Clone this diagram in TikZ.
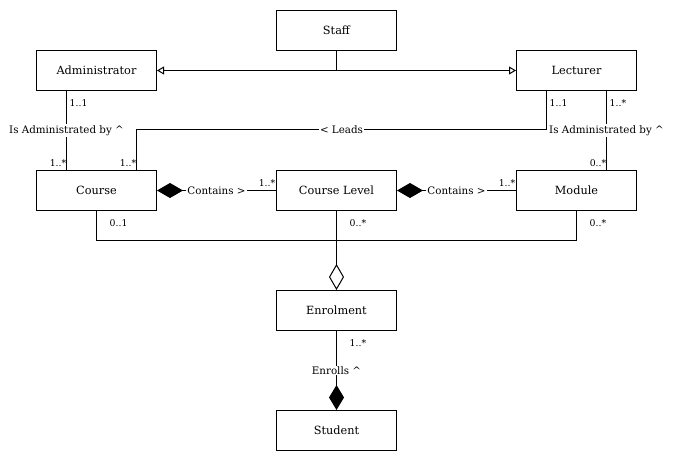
\documentclass[tikz,border=0pt]{standalone}
\usepackage{fontspec}
\setmainfont{DejaVu Serif}
\usetikzlibrary{arrows.meta}
\begin{document}
\begin{tikzpicture}[x=1pt,y=-1pt,
  cls/.style={draw, line width=1pt, minimum width=120pt, minimum height=40pt, inner sep=0pt, font=\fontsize{11.3}{13}\selectfont},
  conn/.style={line width=1pt},
  lbl/.style={fill=white, inner sep=1pt, font=\fontsize{10.3}{12}\selectfont},
  mult/.style={inner sep=0pt, font=\fontsize{9.3}{11}\selectfont},
  gen/.style={-{Triangle[open, length=7pt, width=8pt]}},
  comp/.style={{Diamond[length=26pt, width=15pt]}-},
  agg/.style={-{Diamond[open, length=26pt, width=15pt]}}]
\useasboundingbox[fill=white] (-0.5,-0.5) rectangle (672.5,461.5);
\node[cls] (staff) at (336,30) {Staff};
\node[cls] (admin) at (96,70) {Administrator};
\node[cls] (lect) at (576,70) {Lecturer};
\node[cls] (course) at (96,190) {Course};
\node[cls] (cl) at (336,190) {Course Level};
\node[cls] (module) at (576,190) {Module};
\node[cls] (enrol) at (336,310) {Enrolment};
\node[cls] (student) at (336,430) {Student};
% generalization
\draw[conn,gen] (staff.south) |- (admin.east);
\draw[conn,gen] (staff.south) |- (lect.west);
% administrated (admin-course)
\draw[conn] ([xshift=-30pt]admin.south) -- node[lbl]{Is Administrated by \textasciicircum} ([xshift=-30pt]course.north);
% leads
\draw[conn] ([xshift=-30pt]lect.south) |- node[lbl,pos=0.75]{< Leads} ([xshift=40pt,yshift=40pt]course.north) -- ([xshift=40pt]course.north);
% lecturer-module
\draw[conn] ([xshift=30pt]lect.south) -- node[lbl]{Is Administrated by \textasciicircum} ([xshift=30pt]module.north);
% contains
\draw[conn,comp] (course.east) -- node[lbl]{Contains >} (cl.west);
\draw[conn,comp] (cl.east) -- node[lbl]{Contains >} (module.west);
% enrolment aggregation
\coordinate (j) at (336,240);
\draw[conn] (course.south) |- (j) -| (module.south);
\draw[conn,agg] (cl.south) -- (enrol.north);
% enrolls
\draw[conn,-{Diamond[length=25pt, width=15pt]}] (enrol.south) -- node[lbl]{Enrolls \textasciicircum} (student.north);
% multiplicities
\node[mult, anchor=west] at (69,103) {1..1};
\node[mult, anchor=east] at (66,163) {1..*};
\node[mult, anchor=east] at (136,163) {1..*};
\node[mult, anchor=east] at (275,183) {1..*};
\node[mult, anchor=west] at (109,223) {0..1};
\node[mult, anchor=west] at (549,103) {1..1};
\node[mult, anchor=west] at (609,103) {1..*};
\node[mult, anchor=east] at (606,163) {0..*};
\node[mult, anchor=east] at (515,183) {1..*};
\node[mult, anchor=west] at (349,223) {0..*};
\node[mult, anchor=west] at (589,223) {0..*};
\node[mult, anchor=west] at (349,343) {1..*};
\end{tikzpicture}
\end{document}
